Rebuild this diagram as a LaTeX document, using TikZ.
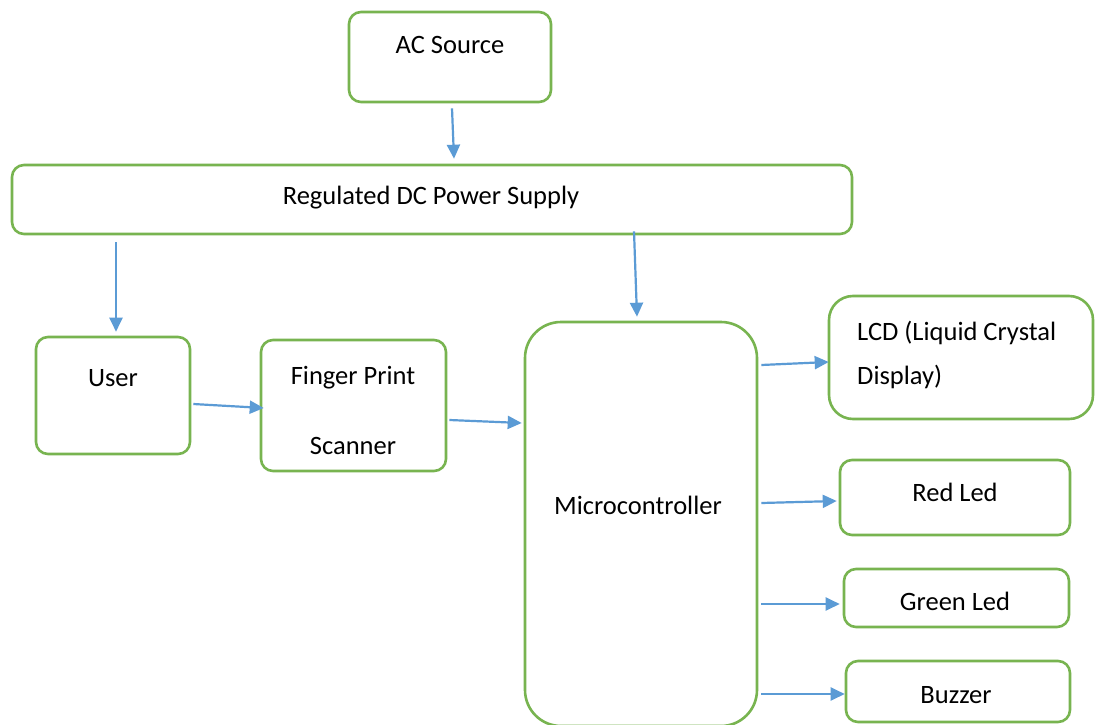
\documentclass[tikz,border=0pt]{standalone}
\usepackage{fontspec}
\setmainfont{Carlito}
\usetikzlibrary{arrows.meta,calc}
\definecolor{boxgreen}{RGB}{120,180,80}
\definecolor{arrowblue}{RGB}{91,155,213}
\tikzset{
  box/.style={draw=boxgreen, line width=2.6pt, fill=white, rounded corners=12pt, inner sep=0pt},
  lbl/.style={font=\fontsize{26.5}{32}\selectfont, text=black, inner sep=0pt, anchor=center},
  conn/.style={draw=arrowblue, line width=2.2pt, -{Triangle[length=14pt,width=13pt]}},
}
\begin{document}
\begin{tikzpicture}[x=1pt,y=-1pt]
\useasboundingbox (0,0) rectangle (1095,725);
\fill[white] (0,0) rectangle (1095,725);
% boxes
\node[box, minimum width=202pt, minimum height=90pt] (ac) at (450,57) {};
\node[box, minimum width=840pt, minimum height=69pt] (dc) at (432,199.5) {};
\node[box, minimum width=154pt, minimum height=117pt] (user) at (113,395.5) {};
\node[box, minimum width=185pt, minimum height=131pt] (fps) at (353.5,405.5) {};
\begin{scope}
\clip (0,0) rectangle (1095,725);
\node[box, rounded corners=36pt, minimum width=232pt, minimum height=404pt] (mc) at (641,524) {};
\end{scope}
\node[box, rounded corners=24pt, minimum width=264pt, minimum height=123pt] (lcd) at (961,357.5) {};
\node[box, minimum width=230pt, minimum height=75pt] (red) at (955,497.5) {};
\node[box, minimum width=225pt, minimum height=58pt] (green) at (956.5,598) {};
\node[box, minimum width=224pt, minimum height=61pt] (buzz) at (958,691.5) {};
% labels
\node[lbl] (actx) at (450,45) {AC Source};
\node[lbl] (dctx) at (431,198) {Regulated DC Power Supply};
\node[lbl] (usertx) at (113,378) {User};
\node[lbl] (fpstx1) at (353,378) {Finger Print};
\node[lbl] (fpstx2) at (353,446) {Scanner};
\node[lbl] (mctx) at (638,505) {Microcontroller};
\node[lbl, anchor=west] (lcdtx1) at (857,333) {LCD (Liquid Crystal};
\node[lbl, anchor=west] (lcdtx2) at (857,377) {Display)};
\node[lbl] (redtx) at (955,492) {Red Led};
\node[lbl] (greentx) at (955,601) {Green Led};
\node[lbl] (buzztx) at (956,695) {Buzzer};
% connectors (xshift/yshift are in canvas units: positive yshift = up)
\draw[conn] ([xshift=2pt,yshift=-5pt]ac.south) -- ([xshift=22pt,yshift=5pt]dc.north);
\draw[conn] ([xshift=-316pt,yshift=-7pt]dc.south) -- ([xshift=3pt,yshift=4pt]user.north);
\draw[conn] ([xshift=202pt,yshift=4pt]dc.south) -- ([xshift=-4pt,yshift=4pt]mc.north);
\draw[conn] ([xshift=2pt,yshift=-8.5pt]user.east) -- ([xshift=4pt,yshift=-2.5pt]fps.west);
\draw[conn] ([xshift=2pt,yshift=-14.5pt]fps.east) -- ([xshift=-2pt,yshift=101pt]mc.west);
\draw[conn] ([xshift=3pt,yshift=159pt]mc.east) -- ([xshift=1pt,yshift=-4.5pt]lcd.west);
\draw[conn] ([xshift=3pt,yshift=21pt]mc.east) -- ([xshift=-2pt,yshift=-3.5pt]red.west);
\draw[conn] ([xshift=3pt,yshift=-80pt]mc.east) -- ([xshift=-3pt,yshift=-6pt]green.west);
\draw[conn] ([xshift=3pt,yshift=-170pt]mc.east) -- ([xshift=0pt,yshift=-2.5pt]buzz.west);
\end{tikzpicture}
\end{document}
